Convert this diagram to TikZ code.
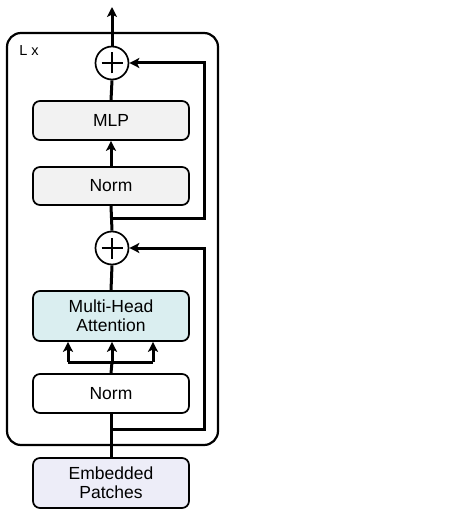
\documentclass[tikz,border=0pt]{standalone}
\usepackage{fontspec}
\setmainfont{Liberation Sans}
\usetikzlibrary{arrows.meta,calc}
\definecolor{boxgray}{HTML}{F2F2F2}
\definecolor{boxcyan}{HTML}{DAEEF0}
\definecolor{boxlav}{HTML}{EDEDF8}
\tikzset{
  blk/.style={draw=black, line width=1.7pt, rounded corners=7pt, minimum width=156pt, inner sep=0pt, align=center, font=\fontsize{17.5}{21}\selectfont},
  addop/.style={draw=black, line width=1.7pt, circle, minimum size=33pt, inner sep=0pt,
    path picture={\draw[line width=1.6pt] ($(path picture bounding box.center)+(-10.5pt,0)$) -- ($(path picture bounding box.center)+(10.5pt,0)$);
                  \draw[line width=1.6pt] ($(path picture bounding box.center)+(0,-10.5pt)$) -- ($(path picture bounding box.center)+(0,10.5pt)$);}},
  flow/.style={line width=3pt},
  flowarr/.style={line width=3pt, -{Stealth[length=10pt,width=10pt,inset=2.5pt]}},
}
\begin{document}
\begin{tikzpicture}[x=1pt,y=-1pt]
\useasboundingbox (0,0) rectangle (474,513);
% outer repeat box
\draw[line width=2.2pt, rounded corners=14pt] (7,33) rectangle (218,445);
\node[font=\fontsize{14.5}{16}\selectfont] (lx) at (29,51) {L x};
% blocks
\node[blk, fill=boxgray, minimum height=39pt] (mlp) at (111,120.5) {MLP};
\node[blk, fill=boxgray, minimum height=38pt] (norma) at (111,186) {Norm};
\node[blk, fill=boxcyan, minimum height=50pt] (mha) at (111,316) {Multi-Head\\[-2pt]Attention};
\node[blk, fill=white, minimum height=39pt] (normb) at (111,393.5) {Norm};
\node[blk, fill=boxlav, minimum height=50pt] (emb) at (111,483) {Embedded\\[-2pt]Patches};
\node[addop] (adda) at (112,63) {};
\node[addop] (addb) at (112,248) {};
% coordinates
\coordinate (top) at (112,7);
\coordinate (ra) at (112,218);
\coordinate (rb) at (112,429);
\coordinate (fork) at (112,362);
\coordinate (fl) at (68,362);
\coordinate (fr) at (153,362);
% main flow
\draw[flow] (emb.north) -- (normb.south);
\draw[flow] (normb.north) -- (fork);
\draw[flow] (fl) -- (fr);
\draw[flowarr] (fl) -- (fl |- mha.south);
\draw[flowarr] (fork) -- (fork |- mha.south);
\draw[flowarr] (fr) -- (fr |- mha.south);
\draw[flow] (mha.north) -- (addb.south);
\draw[flow] (addb.north) -- (norma.south);
\draw[flowarr] (norma.north) -- (mlp.south);
\draw[flow] (mlp.north) -- (adda.south);
\draw[flowarr] (adda.north) -- (top);
% residuals
\draw[flowarr] (rb) -- (204,429) -- (204,248) -- (addb.east);
\draw[flowarr] (ra) -- (204,218) -- (204,63) -- (adda.east);
\end{tikzpicture}
\end{document}
